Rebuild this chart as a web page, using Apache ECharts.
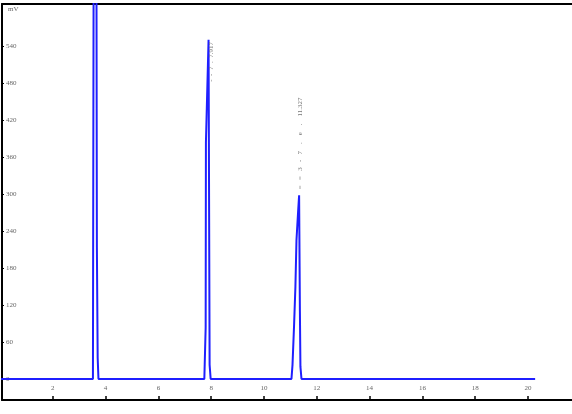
<!DOCTYPE html>
<html>
<head>
<meta charset="utf-8">
<script src="https://cdn.jsdelivr.net/npm/echarts@6/dist/echarts.min.js"></script>
<style>
    html, body { margin: 0; padding: 0; background: #fff; }
    #charts { width: 572px; height: 414px; }
</style>
</head>
<body>
<div id="charts"></div>
<script>
    // retention time (min) and signal (mV)
    var times = [0, 3.52, 3.55, 3.65, 3.67, 3.70, 3.73, 7.74, 7.79, 7.80, 7.86, 7.90, 7.94, 7.98,
                 11.04, 11.08, 11.14, 11.19, 11.23, 11.29, 11.33, 11.36, 11.38, 11.42, 20.27];
    var signal = [0, 0, 760, 760, 213, 34, 0, 0, 83, 384, 384, 550, 23, 0,
                  0, 23, 88, 150, 225, 270, 298, 110, 20, 0, 0];
    var xTicks = [2, 4, 6, 8, 10, 12, 14, 16, 18, 20];
    var yTicks = [0, 60, 120, 180, 240, 300, 360, 420, 480, 540];
    // peak annotations
    var peakNames = ['-  -  7  .  7.917', '=   =   3   -   7    .    e    .    11.327'];
    var peakTimes = [7.90, 11.33];
    var peakValues = [550, 298];

    var chart = echarts.init(document.getElementById('charts'));
    var line = times.map(function (t, i) { return [t, signal[i]]; });
    var font = '"Liberation Serif", "DejaVu Serif", serif';

    chart.setOption({
        animation: false,
        grid: { left: 2, right: 0, top: 4, bottom: 14 },
        xAxis: [{
            type: 'value',
            min: 2 / 26.4,
            max: 572 / 26.4,
            axisLine: { show: true, onZero: false, lineStyle: { color: '#000', width: 2 } },
            axisTick: { show: true, inside: true, length: 4, customValues: xTicks, lineStyle: { color: '#000', width: 1.5 } },
            axisLabel: { inside: true, margin: 8, customValues: xTicks, color: '#666', fontSize: 7, fontFamily: font },
            splitLine: { show: false }
        }, {
            type: 'value',
            position: 'top',
            min: 2 / 26.4,
            max: 572 / 26.4,
            axisLine: { show: true, onZero: false, lineStyle: { color: '#000', width: 2 } },
            axisTick: { show: false },
            axisLabel: { show: false },
            splitLine: { show: false }
        }],
        yAxis: {
            type: 'value',
            min: -34,
            max: 608,
            name: 'mV',
            nameLocation: 'end',
            nameGap: -9,
            nameTextStyle: { align: 'left', padding: [0, 0, 0, 6], color: '#666', fontSize: 7, fontFamily: font },
            axisLine: { show: true, onZero: false, lineStyle: { color: '#000', width: 2 } },
            axisTick: { show: true, inside: true, length: 2, customValues: yTicks, lineStyle: { color: '#000' } },
            axisLabel: { inside: true, margin: 4, customValues: yTicks, color: '#666', fontSize: 7, fontFamily: font },
            splitLine: { show: false }
        },
        series: [{
            type: 'line',
            data: line,
            symbol: 'none',
            clip: true,
            lineStyle: { color: '#1f1fff', width: 2 },
            markPoint: {
                symbol: 'circle',
                symbolSize: 0,
                data: [{
                    name: peakNames[0],
                    coord: [peakTimes[0], peakValues[0]],
                    // offset is in the rotated frame: [-down, right]
                    label: { rotate: 90, align: 'left', offset: [-42, 3] }
                }, {
                    name: peakNames[1],
                    coord: [peakTimes[1], peakValues[1]],
                    label: { rotate: 90, align: 'left', offset: [6, 1] }
                }],
                label: {
                    show: true,
                    position: 'inside',
                    verticalAlign: 'middle',
                    formatter: '{b}',
                    color: '#777',
                    fontSize: 7,
                    fontFamily: font
                }
            }
        }]
    });
</script>
</body>
</html>
